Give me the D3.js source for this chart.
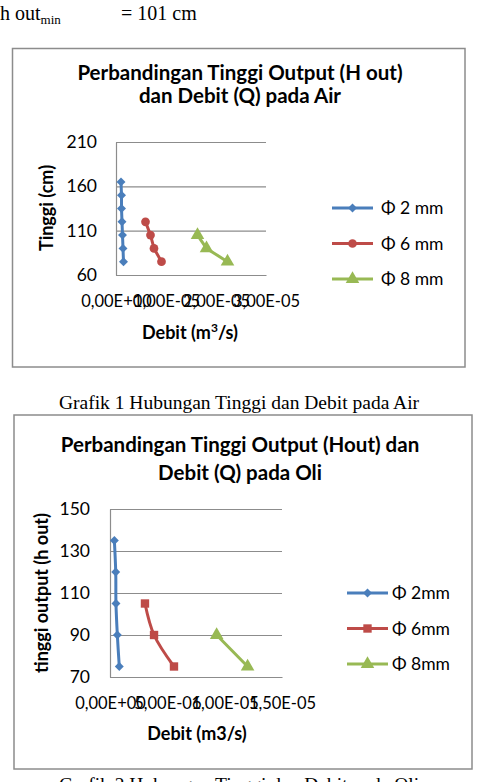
<!DOCTYPE html>
<html>
<head>
<meta charset="utf-8">
<script src="https://cdn.jsdelivr.net/npm/d3@7"></script>
<style>
  html, body { margin: 0; padding: 0; background: #fff; }
  svg { display: block; }
  .cal { font-family: Lato, "Noto Sans", sans-serif; }
  .ser { font-family: "Liberation Serif", "DejaVu Serif", serif; }
</style>
</head>
<body>
<div id="content"></div>
<script>
// ---- data: chart 1 (air) ----
const airLabels = ["Φ 2 mm", "Φ 6 mm", "Φ 8 mm"];
const airQ2 = [1.0e-6, 1.1e-6, 1.1e-6, 1.2e-6, 1.3e-6, 1.4e-6, 1.5e-6];
const airH2 = [165, 150, 135, 120, 105, 90, 75];
const airQ6 = [5.9e-6, 6.9e-6, 7.6e-6, 9.1e-6];
const airH6 = [120, 105, 90, 75];
const airQ8 = [1.63e-5, 1.81e-5, 2.23e-5];
const airH8 = [105, 90, 75];
const airXTicks = [0, 1e-5, 2e-5, 3e-5];
const airYTicks = [60, 110, 160, 210];

// ---- data: chart 2 (oli) ----
const oliLabels = ["Φ 2mm", "Φ 6mm", "Φ 8mm"];
const oliQ2 = [3.8e-7, 5.0e-7, 5.2e-7, 6.4e-7, 8.1e-7];
const oliH2 = [135, 120, 105, 90, 75];
const oliQ6 = [3.05e-6, 3.84e-6, 5.58e-6];
const oliH6 = [105, 90, 75];
const oliQ8 = [9.3e-6, 1.2e-5];
const oliH8 = [90, 75];
const oliXTicks = [0, 5e-6, 1e-5, 1.5e-5];
const oliYTicks = [70, 90, 110, 130, 150];

const colors = ["#4a7ebb", "#be4b48", "#98b954"];

const svg = d3.select("#content").append("svg")
  .attr("width", 482).attr("height", 782);
svg.append("rect").attr("width", 482).attr("height", 782).attr("fill", "#fff");

// excel style 0,00E+00
function sci(v) {
  if (v === 0) return "0,00E+00";
  const e = Math.floor(Math.log10(Math.abs(v)) + 1e-9);
  const m = v / Math.pow(10, e);
  return m.toFixed(2).replace(".", ",") + "E" + (e < 0 ? "-" : "+") + String(Math.abs(e)).padStart(2, "0");
}

function marker(shape) {
  if (shape === "diamond") return { path: d3.symbol(d3.symbolSquare, 40)(), rot: 45 };
  if (shape === "circle") return { path: d3.symbol(d3.symbolCircle, 60)(), rot: 0 };
  if (shape === "square") return { path: d3.symbol(d3.symbolSquare, 70)(), rot: 0 };
  return { path: d3.symbol(d3.symbolTriangle, 80)(), rot: 0 };
}

function drawChart(c) {
  const g = svg.append("g");

  // chart frame
  g.append("rect")
    .attr("x", c.box[0]).attr("y", c.box[1])
    .attr("width", c.box[2] - c.box[0]).attr("height", c.box[3] - c.box[1])
    .attr("fill", "#fff").attr("stroke", "#8c8c8c").attr("stroke-width", 1.5);

  // title
  c.title.forEach((t, i) => {
    g.append("text").attr("class", "cal")
      .attr("x", c.titleX).attr("y", c.titleY[i])
      .attr("text-anchor", "middle")
      .attr("font-size", c.titleSize).attr("font-weight", "bold")
      .text(t);
  });

  const x = d3.scaleLinear().domain(c.xDomain).range([c.plot[0], c.plot[2]]);
  const y = d3.scaleLinear().domain(c.yDomain).range([c.plot[3], c.plot[1]]);

  // gridlines
  g.append("g")
    .attr("transform", `translate(${c.plot[0]},0)`)
    .call(d3.axisLeft(y).tickValues(c.yTicks).tickSize(-(c.plot[2] - c.plot[0])).tickFormat(""))
    .call(s => s.select(".domain").remove())
    .call(s => s.selectAll("line").attr("stroke", "#8c8c8c").attr("stroke-width", 1.2));

  // y axis labels
  g.append("g")
    .attr("transform", `translate(${c.plot[0]},0)`)
    .call(d3.axisLeft(y).tickValues(c.yTicks).tickSize(0).tickPadding(c.yPad))
    .call(s => s.select(".domain").attr("stroke", "#8c8c8c").attr("stroke-width", 1.2))
    .call(s => s.selectAll("text").attr("class", "cal").attr("font-size", c.yTickSize).attr("fill", "#000"));

  // x axis labels
  g.append("g")
    .attr("transform", `translate(0,${c.plot[3]})`)
    .call(d3.axisBottom(x).tickValues(c.xTicks).tickSize(0).tickPadding(c.xPad).tickFormat(sci))
    .call(s => s.select(".domain").attr("stroke", "#8c8c8c").attr("stroke-width", 1.2))
    .call(s => s.selectAll("text").attr("class", "cal").attr("font-size", c.xTickSize).attr("fill", "#000"));

  // axis titles
  g.append("text").attr("class", "cal")
    .attr("x", c.xTitle[0]).attr("y", c.xTitle[1])
    .attr("text-anchor", "middle").attr("font-size", c.axisTitleSize).attr("font-weight", "bold")
    .html(c.xTitleText);
  g.append("text").attr("class", "cal")
    .attr("transform", `translate(${c.yTitle[0]},${c.yTitle[1]}) rotate(-90)`)
    .attr("text-anchor", "middle").attr("font-size", c.axisTitleSize).attr("font-weight", "bold")
    .text(c.yTitleText);

  // series
  c.series.forEach((s, i) => {
    const pts = s.q.map((q, k) => [q, s.h[k]]);
    const line = d3.line().x(d => x(d[0])).y(d => y(d[1])).curve(c.curve);
    g.append("path").datum(pts)
      .attr("fill", "none").attr("stroke", colors[i])
      .attr("stroke-width", 3).attr("stroke-linejoin", "round").attr("stroke-linecap", "round")
      .attr("d", line);
    const m = marker(s.shape);
    g.selectAll(null).data(pts).enter().append("path")
      .attr("d", m.path).attr("fill", colors[i])
      .attr("transform", d => `translate(${x(d[0])},${y(d[1])}) rotate(${m.rot})`);

    // legend entry
    const ly = c.legend[1] + i * c.legendStep;
    g.append("line")
      .attr("x1", c.legend[0]).attr("x2", c.legend[0] + 41)
      .attr("y1", ly).attr("y2", ly)
      .attr("stroke", colors[i]).attr("stroke-width", 3);
    g.append("path").attr("d", m.path).attr("fill", colors[i])
      .attr("transform", `translate(${c.legend[0] + 20.5},${ly}) rotate(${m.rot})`);
    g.append("text").attr("class", "cal")
      .attr("x", c.legend[0] + c.legendGap).attr("y", ly).attr("dy", "0.35em")
      .attr("font-size", c.legendSize)
      .text(s.label);
  });
}

// header line
const head = svg.append("text").attr("class", "ser").attr("y", 20).attr("font-size", 20);
head.append("tspan").attr("x", 0).text("h out");
head.append("tspan").attr("dy", 4).attr("font-size", 13).text("min");
svg.append("text").attr("class", "ser").attr("x", 121).attr("y", 20).attr("font-size", 20).text("= 101 cm");

drawChart({
  box: [12.5, 48.5, 465, 367],
  title: ["Perbandingan Tinggi Output (H out)", "dan Debit (Q) pada Air"],
  titleX: 240, titleY: [80, 103], titleSize: 20.5,
  plot: [116, 142, 266, 275],
  xDomain: [0, 3e-5], yDomain: [60, 210],
  xTicks: airXTicks, yTicks: airYTicks,
  xTickSize: 16.5, yTickSize: 17.5, yPad: 19, xPad: 20,
  xTitle: [190, 339], xTitleText: "Debit (m<tspan dy='-7' font-size='12'>3</tspan><tspan dy='7'>/s)</tspan>",
  yTitle: [53, 208], yTitleText: "Tinggi (cm)",
  axisTitleSize: 18,
  curve: d3.curveLinear,
  legend: [332, 208], legendStep: 35.5, legendSize: 17.5, legendGap: 49,
  series: [
    { q: airQ2, h: airH2, shape: "diamond", label: airLabels[0] },
    { q: airQ6, h: airH6, shape: "circle", label: airLabels[1] },
    { q: airQ8, h: airH8, shape: "triangle", label: airLabels[2] }
  ]
});

svg.append("text").attr("class", "ser").attr("x", 239).attr("y", 409)
  .attr("text-anchor", "middle").attr("font-size", 19.5)
  .text("Grafik 1 Hubungan Tinggi dan Debit pada Air");

drawChart({
  box: [14, 415, 472, 769],
  title: ["Perbandingan Tinggi Output (Hout) dan", "Debit (Q) pada Oli"],
  titleX: 240, titleY: [452, 480], titleSize: 20.5,
  plot: [110, 509, 282, 677],
  xDomain: [0, 1.5e-5], yDomain: [70, 150],
  xTicks: oliXTicks, yTicks: oliYTicks,
  xTickSize: 16.5, yTickSize: 17.5, yPad: 20, xPad: 20,
  xTitle: [197, 740], xTitleText: "Debit (m3/s)",
  yTitle: [48, 593], yTitleText: "tinggi output (h out)",
  axisTitleSize: 18,
  curve: d3.curveCatmullRom,
  legend: [347, 593], legendStep: 35.5, legendSize: 17.5, legendGap: 45,
  series: [
    { q: oliQ2, h: oliH2, shape: "diamond", label: oliLabels[0] },
    { q: oliQ6, h: oliH6, shape: "square", label: oliLabels[1] },
    { q: oliQ8, h: oliH8, shape: "triangle", label: oliLabels[2] }
  ]
});

svg.append("text").attr("class", "ser").attr("x", 239).attr("y", 791)
  .attr("text-anchor", "middle").attr("font-size", 19.5)
  .text("Grafik 2 Hubungan Tinggi dan Debit pada Oli");
</script>
</body>
</html>
